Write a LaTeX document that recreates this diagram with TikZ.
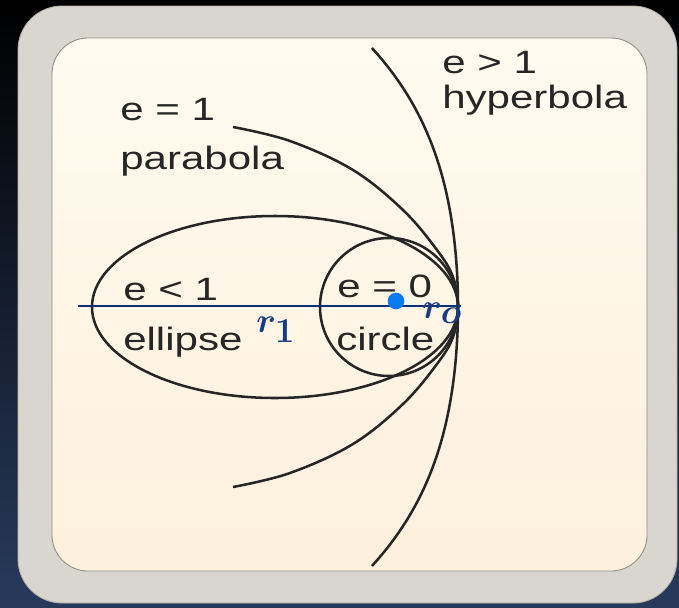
\documentclass[tikz,border=0pt]{standalone}
\usepackage{fontspec}
\newfontfamily\lblfont[FakeStretch=1.3]{Liberation Sans}
\definecolor{framegray}{RGB}{216,214,206}
\definecolor{frameedge}{RGB}{178,175,166}
\definecolor{paperhi}{RGB}{255,251,240}
\definecolor{paperlo}{RGB}{253,240,221}
\definecolor{bgnavy}{RGB}{40,58,92}
\definecolor{axisblue}{RGB}{14,46,120}
\definecolor{dotblue}{RGB}{10,122,240}
\definecolor{rblue}{RGB}{22,60,130}
\tikzset{
  conic/.style={line width=1.8pt, black!85},
  lbl/.style={font=\lblfont\fontsize{23}{25}\selectfont, anchor=base west, inner sep=0pt, text=black!85},
  rlbl/.style={font=\fontsize{34}{36}\selectfont\boldmath, text=rblue, anchor=base west, inner sep=0pt},
}
\begin{document}
\begin{tikzpicture}[x=0.025cm, y=-0.025cm]
  \useasboundingbox (0,0) rectangle (679,607);
  % background and frame
  \shade[top color=black, bottom color=bgnavy] (0,0) rectangle (679,607);
  \fill[framegray, draw=frameedge, line width=0.6pt, rounded corners=1.1cm] (18,6) rectangle (677,603);
  \shade[top color=paperhi, bottom color=paperlo, draw=frameedge!80!black, line width=0.6pt,
    rounded corners=0.9cm] (52,38) rectangle (647,571);

  % conics, all through the vertex (458,307)
  \draw[conic] (275,307) ellipse [x radius=183, y radius=91];
  \draw[conic] (389,307) circle [radius=69];
  % parabola
  \draw[conic] plot[smooth, tension=0.6] coordinates {(233,127) (290,141) (353,170) (403,210) (437,250)
    (453,277) (458,307) (453,337) (437,364) (403,404) (353,444) (290,473) (233,487)};
  % hyperbola (u = dy/100)
  \draw[conic] plot[domain=-2.59:2.59, samples=80, variable=\u]
    ({458-8*\u*\u-0.72*\u*\u*\u*\u}, {307+100*\u});

  % labels
  \node[lbl] (hypE) at (442,73) {e > 1};
  \node[lbl] (hypN) at (442,108) {hyperbola};
  \node[lbl] (parE) at (120,120) {e = 1};
  \node[lbl] (parN) at (120,169) {parabola};
  \node[lbl] (ellE) at (123,300) {e < 1};
  \node[lbl] (ellN) at (123,350) {ellipse};
  \node[lbl] (cirE) at (337,297) {e = 0};
  \node[lbl] (cirN) at (336,350) {circle};

  % axis, focus and radii
  \coordinate (axisL) at (78,306);
  \coordinate (axisR) at (461,306);
  \draw[axisblue, line width=1.8pt] (axisL) -- (axisR);
  \node[circle, fill=dotblue, inner sep=0pt, minimum size=16.6*0.025cm] (focus) at (396,301) {};
  \node[rlbl] (rOne) at (256,332) {$r_1$};
  \node[rlbl] (rZero) at (422,318) {$r_o$};
\end{tikzpicture}
\end{document}
